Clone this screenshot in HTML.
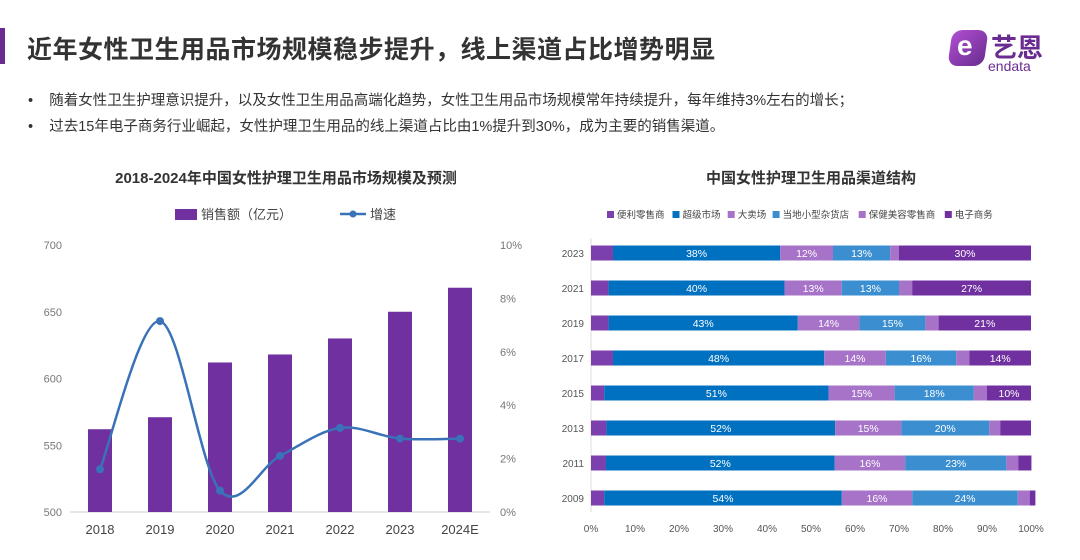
<!DOCTYPE html>
<html><head><meta charset="utf-8"><style>
body{margin:0;width:1080px;height:560px;background:#fff;overflow:hidden;font-family:"Liberation Sans","Noto Sans CJK SC",sans-serif;position:relative}
.abs{position:absolute}
</style></head><body>
<div class="abs" style="left:0;top:28px;width:5px;height:36px;background:#6a2c91"></div>
<div class="abs" style="left:27px;top:30px;font-size:25px;color:#333;font-weight:bold;letter-spacing:0.5px">近年女性卫生用品市场规模稳步提升，线上渠道占比增势明显</div>
<div class="abs" style="left:948px;top:28px;width:110px;height:48px">
<div style="position:absolute;left:2px;top:2px;width:36px;height:36px;border-radius:10px;background:linear-gradient(135deg,#b04fd0,#6a2c91);transform:skewX(-8deg)"></div>
<div style="position:absolute;left:9px;top:2px;color:#fff;font-size:28px;font-weight:bold">e</div>
<div style="position:absolute;left:43px;top:0;color:#6a2c91;font-size:26px;font-weight:bold">艺恩</div>
<div style="position:absolute;left:40px;top:30px;color:#6a2c91;font-size:14px">endata</div>
</div>
<div class="abs" style="left:28px;top:89px;font-size:14.5px;color:#333">•&nbsp;&nbsp;&nbsp;&nbsp;随着女性卫生护理意识提升，以及女性卫生用品高端化趋势，女性卫生用品市场规模常年持续提升，每年维持3%左右的增长；</div>
<div class="abs" style="left:28px;top:115px;font-size:14.5px;color:#333">•&nbsp;&nbsp;&nbsp;&nbsp;过去15年电子商务行业崛起，女性护理卫生用品的线上渠道占比由1%提升到30%，成为主要的销售渠道。</div>

<svg class="abs" style="left:0;top:0" width="1080" height="560" id="svg">
<text x="286" y="183" text-anchor="middle" font-size="15" font-weight="bold" fill="#333">2018-2024年中国女性护理卫生用品市场规模及预测</text>
<text x="811" y="183" text-anchor="middle" font-size="15" font-weight="bold" fill="#333">中国女性护理卫生用品渠道结构</text>
<g>
<rect x="175" y="209" width="22" height="11" fill="#7030a0"/>
<text x="201" y="219" font-size="13" fill="#444">销售额（亿元）</text>
<line x1="340" y1="214" x2="366" y2="214" stroke="#3a72b8" stroke-width="2.5"/><circle cx="353" cy="214" r="3.5" fill="#3a72b8"/>
<text x="370" y="219" font-size="13" fill="#444">增速</text>
</g>
<g id="left"></g><g id="right"></g>
</svg>
<script>
const years=['2018','2019','2020','2021','2022','2023','2024E'];
const sales=[562,571,612,618,630,650,668];
const growth=[1.6,7.15,0.8,2.1,3.15,2.75,2.75];
const leftTicks=[500,550,600,650,700];
const rightTicks=[0,2,4,6,8,10];

const rowYears=['2023','2021','2019','2017','2015','2013','2011','2009'];
const seriesNames=['便利零售商','超级市场','大卖场','当地小型杂货店','保健美容零售商','电子商务'];
const conv=[5,4,4,5,3,3.5,3.4,3];
const superm=[38,40,43,48,51,52,52,54];
const hyper=[12,13,14,14,15,15,16,16];
const local=[13,13,15,16,18,20,23,24];
const beauty=[2,3,3,3,3,2.5,2.7,2.7];
const ecom=[30,27,21,14,10,7,3,1.3];
const xTicks=[0,10,20,30,40,50,60,70,80,90,100];

const NS='http://www.w3.org/2000/svg';
function mk(p,t,a){const e=document.createElementNS(NS,t);for(const k in a)e.setAttribute(k,a[k]);p.appendChild(e);return e;}
const L=document.getElementById('left'),R=document.getElementById('right');
const yL=v=>512-(v-500)*267/200, yR=v=>512-v*26.7, xC=i=>100+i*60;
leftTicks.forEach(t=>{const e=mk(L,'text',{x:62,y:yL(t)+4,'text-anchor':'end','font-size':11,fill:'#777'});e.textContent=t;

});
rightTicks.forEach(t=>{const e=mk(L,'text',{x:500,y:yR(t)+4,'font-size':11,fill:'#777'});e.textContent=t+'%';

});
mk(L,'line',{x1:70,y1:512,x2:490,y2:512,stroke:'#ccc'});
sales.forEach((v,i)=>{const r=mk(L,'rect',{x:xC(i)-12,y:yL(v),width:24,height:512-yL(v),fill:'#7030a0'});


const t=mk(L,'text',{x:xC(i),y:534,'text-anchor':'middle','font-size':13,fill:'#444'});t.textContent=years[i];

});
const pts=growth.map((g,i)=>[xC(i),yR(g)]);
let d='M'+pts[0].join(',');
for(let i=0;i<pts.length-1;i++){const p0=pts[Math.max(0,i-1)],p1=pts[i],p2=pts[i+1],p3=pts[Math.min(pts.length-1,i+2)];
d+=` C${p1[0]+(p2[0]-p0[0])/6},${p1[1]+(p2[1]-p0[1])/6} ${p2[0]-(p3[0]-p1[0])/6},${p2[1]-(p3[1]-p1[1])/6} ${p2[0]},${p2[1]}`;}
const ln=mk(L,'path',{d:d,fill:'none',stroke:'#3a72b8','stroke-width':2.5});


pts.forEach((p,i)=>{const c=mk(L,'circle',{cx:p[0],cy:p[1],r:4,fill:'#3a72b8'});

});
const colors=['#7b3fae','#0070c0','#a673c9','#3b8fd0','#a673c9','#7030a0'];
let lx=607;
seriesNames.forEach((n,i)=>{mk(R,'rect',{x:lx,y:211,width:7,height:7,fill:colors[i]});
const t=mk(R,'text',{x:lx+10,y:218,'font-size':9.5,fill:'#444'});t.textContent=n;


lx+=14+n.length*10.3;});
const x0=591,W=440,xs=v=>x0+v*W/100;
mk(R,'line',{x1:x0,y1:238,x2:x0,y2:512,stroke:'#ddd'});
const series=[conv,superm,hyper,local,beauty,ecom];
rowYears.forEach((y,r)=>{const cy=253+r*35;let acc=0;
const yl=mk(R,'text',{x:584,y:cy+4,'text-anchor':'end','font-size':10,fill:'#555'});yl.textContent=y;


series.forEach((s,k)=>{const v=s[r];const rc=mk(R,'rect',{x:xs(acc),y:cy-7.5,width:v*W/100,height:15,fill:colors[k]});


if(v>=8){const t=mk(R,'text',{x:xs(acc+v/2),y:cy+4,'text-anchor':'middle','font-size':10.5,fill:'#fff'});t.textContent=Math.round(v)+'%';

}
acc+=v;});});
xTicks.forEach(t=>{const e=mk(R,'text',{x:xs(t),y:532,'text-anchor':'middle','font-size':10,fill:'#555'});e.textContent=t+'%';

});
</script>
</body></html>
